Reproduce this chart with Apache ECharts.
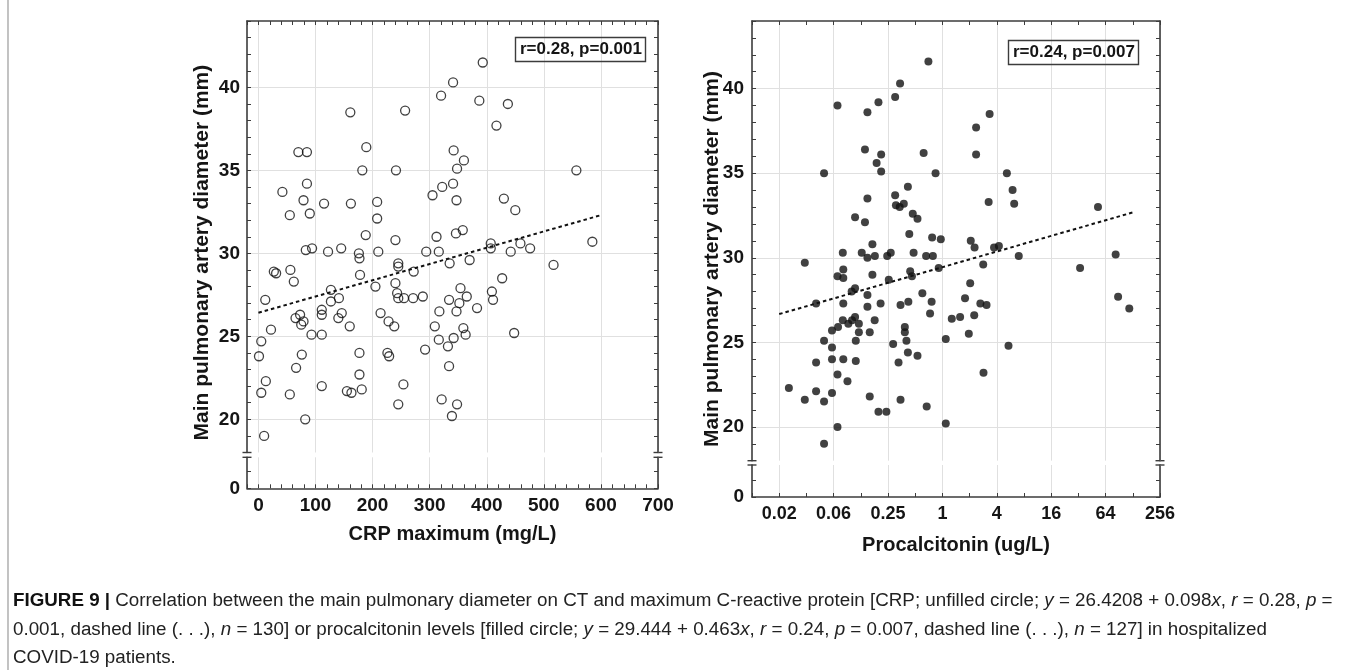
<!DOCTYPE html>
<html><head>
<meta charset="UTF-8">
<title>Figure 9</title>
<script src="https://cdn.jsdelivr.net/npm/echarts@6.0.0/dist/echarts.min.js"></script>
<style>
  html, body { margin: 0; padding: 0; background: #fff; }
  #chart { width: 1357px; height: 670px; }
</style>
</head>
<body>
<div id="chart"></div>
<script>
// CRP maximum (mg/L) vs main pulmonary artery diameter (mm), unfilled circles
const crpMax = [393,341,320,387,417,161,257,70,85,189,342,360,348,182,241,85,42,79,115,162,
  208,305,322,341,347,55,90,208,188,240,312,346,358,83,94,122,145,176,177,210,
  294,316,335,370,245,245,407,407,
  437,557,430,450,442,459,476,585,517,427,448,
  27,31,56,62,12,22,5,1,13,5,10,55,66,76,82,65,73,79,75,93,
  111,111,111,111,127,127,141,140,146,160,155,163,177,177,181,178,205,214,228,238,
  226,229,245,254,240,243,245,255,272,271,288,292,309,316,317,321,332,334,342,339,
  348,334,352,347,354,365,359,363,383,409,411];
const crpDiam = [41.5,40.3,39.5,39.2,37.7,38.5,38.6,36.1,36.1,36.4,36.2,35.6,35.1,35.0,35.0,34.2,33.7,33.2,33.0,33.0,
  33.1,33.5,34.0,34.2,33.2,32.3,32.4,32.1,31.1,30.8,31.0,31.2,31.4,30.2,30.3,30.1,30.3,30.0,29.7,30.1,
  30.1,30.1,29.4,29.6,29.4,29.2,30.6,30.3,
  39.0,35.0,33.3,32.6,30.1,30.6,30.3,30.7,29.3,28.5,25.2,
  28.9,28.8,29.0,28.3,27.2,25.4,24.7,23.8,22.3,21.6,19.0,21.5,23.1,23.9,20.0,26.1,26.3,25.9,25.7,25.1,
  25.1,22.0,26.6,26.3,27.8,27.1,27.3,26.1,26.4,25.6,21.7,21.6,24.0,22.7,21.8,28.7,28.0,26.4,25.9,25.6,
  24.0,23.8,20.9,22.1,28.2,27.6,27.3,27.3,28.9,27.3,27.4,24.2,25.6,24.8,26.5,21.2,24.4,23.2,24.9,20.2,
  20.9,27.2,27.0,26.5,27.9,27.4,25.5,25.1,26.7,27.7,27.2];
const crpTrend = [[0, 26.42], [600, 32.3]];

// Procalcitonin (ug/L) vs main pulmonary artery diameter (mm), filled circles
const pctLevel = [0.70,0.34,0.30,0.196,0.069,0.148,3.33,2.36,0.139,0.21,0.62,2.36,0.187,0.21,0.049,0.84,5.17,0.415,5.98,6.23,
  3.25,0.30,0.148,0.306,0.337,0.374,0.108,0.139,0.47,0.53,0.43,0.168,0.77,0.96,2.06,2.27,3.73,4.22,0.030,0.079,
  0.128,0.148,0.179,0.245,0.268,0.48,0.66,0.785,2.83,7.0,
  0.080,0.069,0.080,0.168,0.44,0.46,0.255,0.91,2.03,0.108,0.099,0.148,0.60,0.040,0.080,0.148,0.207,0.344,0.42,0.76,
  0.73,1.78,2.63,3.08,2.25,1.27,1.57,1.96,1.09,5.39,2.85,0.079,0.091,0.100,0.108,0.119,0.178,0.070,0.060,0.119,
  0.157,0.384,0.384,0.40,0.285,0.415,0.53,0.327,0.049,0.060,0.110,0.040,0.060,0.080,0.110,0.069,0.089,0.020,0.030,0.040,
  0.049,0.060,0.157,0.196,0.240,0.344,0.67,1.09,0.069,0.049,
  52.7,82.7,33.4,88,117];
const pctDiam = [41.6,40.3,39.5,39.2,39.0,38.6,38.5,37.7,36.4,36.1,36.2,36.1,35.6,35.1,35.0,35.0,35.0,34.2,34.0,33.2,
  33.3,33.7,33.5,33.1,33.0,33.2,32.4,32.1,32.6,32.3,31.4,30.8,31.2,31.1,31.0,30.6,30.6,30.7,29.7,30.3,
  30.3,30.0,30.1,30.1,30.3,30.3,30.1,30.1,29.6,30.1,
  29.3,28.9,28.8,29.0,29.2,28.9,28.7,29.4,28.5,28.2,28.0,27.8,27.9,27.3,27.3,27.1,27.3,27.2,27.4,27.4,
  26.7,27.6,27.3,27.2,26.6,26.4,26.5,25.5,25.2,24.8,23.2,26.3,26.1,26.3,26.5,26.1,26.3,25.9,25.7,25.6,
  25.6,25.9,25.6,25.1,24.9,24.4,24.2,23.8,25.1,24.7,25.1,23.8,24.0,24.0,23.9,23.1,22.7,22.3,21.6,22.1,
  21.5,22.0,21.8,20.9,20.9,21.6,21.2,20.2,20.0,19.0,
  33.0,30.2,29.4,27.7,27.0];
const pctTrend = [[0.015625, 26.67], [128, 32.68]];

// axis ticks and labels
const crpMajor = [0, 100, 200, 300, 400, 500, 600, 700];
const crpMinor = [-20,0,20,40,60,80,100,120,140,160,180,200,220,240,260,280,300,320,340,360,380,400,
  420,440,460,480,500,520,540,560,580,600,620,640,660,680,700];
const pctMajor = [0.015625, 0.0625, 0.25, 1, 4, 16, 64, 256];
const pctLabels = ['0.02', '0.06', '0.25', '1', '4', '16', '64', '256'];
const pctMinor = [0.0078125,0.015625,0.03125,0.0625,0.125,0.25,0.5,1,2,4,8,16,32,64,128,256];
const diamMajor = [20, 25, 30, 35, 40];
const diamMinor = [18,19,20,21,22,23,24,25,26,27,28,29,30,31,32,33,34,35,36,37,38,39,40,41,42,43,44];
const lowTicks = [0, 1];
const lowLabels = [0];

const statCRP = 'r=0.28, p=0.001';
const statPCT = 'r=0.24, p=0.007';

// layout (px)
const L = { left: 247, right: 658, top: 21, brk1: 452.5, brk2: 457.3, bottom: 488.3 };
const R = { left: 752, right: 1160, top: 21, brk1: 460.7, brk2: 465, bottom: 497 };
const LOW_MAX = 1.87;

const FONT = '"Liberation Sans", Arial, Helvetica, sans-serif';
const INK = '#151515';
const FRAME = '#3c3c3c';
const GRIDC = '#e0e0e0';

function frameAxis(base, ticks, labels, labelOpt) {
  return Object.assign({
    type: 'value',
    axisLine: { show: true, onZero: false, lineStyle: { color: FRAME, width: 1.6 } },
    axisTick: { show: true, inside: true, length: 4, customValues: ticks, lineStyle: { color: FRAME, width: 1 } },
    axisLabel: labels
      ? Object.assign({ show: true, customValues: labels, color: INK, fontFamily: FONT, fontWeight: 'bold', fontSize: 19 }, labelOpt)
      : { show: false },
    splitLine: { show: false }
  }, base);
}

function lineAxis(base, values) {
  return Object.assign({
    type: 'value',
    axisLine: { show: false, onZero: false },
    axisTick: { show: false, customValues: values },
    axisLabel: { show: false },
    splitLine: { show: true, lineStyle: { color: GRIDC, width: 1 } }
  }, base);
}

function pctFormat(v) {
  for (let i = 0; i < pctMajor.length; i++) {
    if (Math.abs(Math.log2(v) - Math.log2(pctMajor[i])) < 1e-6) return pctLabels[i];
  }
  return '';
}

const nameStyle = { fontFamily: FONT, fontWeight: 'bold', fontSize: 20, color: INK };
const crpX = { min: -20, max: 700 };
const pctX = { type: 'log', logBase: 2, min: 0.0078125, max: 256 };
const upY = { min: 18, max: 44 };
const lowY = { min: 0, max: LOW_MAX };

function breakMarks(P) {
  const out = [];
  [P.left, P.right].forEach(function (x) {
    [P.brk1, P.brk2].forEach(function (y) {
      out.push({ type: 'line', shape: { x1: x - 4.5, y1: y, x2: x + 4.5, y2: y },
        style: { stroke: FRAME, lineWidth: 1.4 }, silent: true });
    });
  });
  return out;
}

const CAP_SIZE = 18.8;
const capRich = {
  b: { fontFamily: FONT, fontSize: CAP_SIZE, fontWeight: 'bold', fill: '#111' },
  i: { fontFamily: FONT, fontSize: CAP_SIZE, fontStyle: 'italic', fill: '#222' }
};
const capLines = [
  '{b|FIGURE 9 |} Correlation between the main pulmonary diameter on CT and maximum C-reactive protein [CRP; unfilled circle; {i|y} = 26.4208 + 0.098{i|x}, {i|r} = 0.28, {i|p} =',
  '0.001, dashed line (. . .), {i|n} = 130] or procalcitonin levels [filled circle; {i|y} = 29.444 + 0.463{i|x}, {i|r} = 0.24, {i|p} = 0.007, dashed line (. . .), {i|n} = 127] in hospitalized',
  'COVID-19 patients.'
];
const capY = [601, 630, 658];

const yName = 'Main pulmonary artery diameter (mm)';
const yNameStyle = { text: yName, fontFamily: FONT, fontWeight: 'bold', fontSize: 21,
  fill: INK, align: 'center', verticalAlign: 'middle' };

const chart = echarts.init(document.getElementById('chart'));

const option = {
  animation: false,
  backgroundColor: '#fff',
  title: [
    { text: statCRP, left: 515, top: 37, padding: [4, 4, 4, 5], borderColor: FRAME, borderWidth: 1.4,
      textStyle: { fontFamily: FONT, fontWeight: 'bold', fontSize: 17, color: INK } },
    { text: statPCT, left: 1008, top: 40, padding: [4, 4, 4, 5], borderColor: FRAME, borderWidth: 1.4,
      textStyle: { fontFamily: FONT, fontWeight: 'bold', fontSize: 17, color: INK } }
  ],
  grid: [
    { left: L.left, top: L.top, width: L.right - L.left, height: L.brk1 - L.top },
    { left: L.left, top: L.brk2, width: L.right - L.left, height: L.bottom - L.brk2 },
    { left: R.left, top: R.top, width: R.right - R.left, height: R.brk1 - R.top },
    { left: R.left, top: R.brk2, width: R.right - R.left, height: R.bottom - R.brk2 }
  ],
  xAxis: [
    frameAxis(Object.assign({ gridIndex: 0, position: 'top' }, crpX), crpMinor),
    lineAxis(Object.assign({ gridIndex: 0, position: 'bottom' }, crpX), crpMajor),
    frameAxis(Object.assign({ gridIndex: 1, position: 'bottom', name: 'CRP maximum (mg/L)', nameLocation: 'middle',
      nameGap: 36, nameTextStyle: nameStyle }, crpX), crpMinor, crpMajor, { margin: 8 }),
    lineAxis(Object.assign({ gridIndex: 1, position: 'top' }, crpX), crpMajor),
    frameAxis(Object.assign({ gridIndex: 2, position: 'top' }, pctX), pctMinor),
    lineAxis(Object.assign({ gridIndex: 2, position: 'bottom' }, pctX), pctMajor),
    frameAxis(Object.assign({ gridIndex: 3, position: 'bottom', name: 'Procalcitonin (ug/L)', nameLocation: 'middle',
      nameGap: 38, nameTextStyle: nameStyle }, pctX), pctMinor, pctMajor, { margin: 8, fontSize: 18, formatter: pctFormat }),
    lineAxis(Object.assign({ gridIndex: 3, position: 'top' }, pctX), pctMajor)
  ],
  yAxis: [
    frameAxis(Object.assign({ gridIndex: 0, position: 'left' }, upY), diamMinor, diamMajor, { margin: 7 }),
    frameAxis(Object.assign({ gridIndex: 0, position: 'right' }, upY), diamMinor),
    lineAxis(Object.assign({ gridIndex: 0, position: 'left' }, upY), diamMajor),
    frameAxis(Object.assign({ gridIndex: 1, position: 'left' }, lowY), lowTicks, lowLabels, { margin: 7 }),
    frameAxis(Object.assign({ gridIndex: 1, position: 'right' }, lowY), lowTicks),
    frameAxis(Object.assign({ gridIndex: 2, position: 'left' }, upY), diamMinor, diamMajor, { margin: 8 }),
    frameAxis(Object.assign({ gridIndex: 2, position: 'right' }, upY), diamMinor),
    lineAxis(Object.assign({ gridIndex: 2, position: 'left' }, upY), diamMajor),
    frameAxis(Object.assign({ gridIndex: 3, position: 'left' }, lowY), lowTicks, lowLabels, { margin: 8 }),
    frameAxis(Object.assign({ gridIndex: 3, position: 'right' }, lowY), lowTicks)
  ],
  series: [
    {
      name: 'CRP', type: 'scatter', xAxisIndex: 0, yAxisIndex: 0,
      data: crpMax.map(function (v, i) { return [v, crpDiam[i]]; }),
      symbol: 'circle', symbolSize: 9,
      itemStyle: { color: 'rgba(255,255,255,0)', borderColor: '#111', borderWidth: 1.3 },
      silent: true, z: 3
    },
    {
      name: 'CRP fit', type: 'line', xAxisIndex: 0, yAxisIndex: 0, data: crpTrend,
      showSymbol: false, symbol: 'none',
      lineStyle: { color: '#111', width: 2, type: [3.5, 3] }, silent: true, z: 4
    },
    {
      name: 'PCT', type: 'scatter', xAxisIndex: 4, yAxisIndex: 5,
      data: pctLevel.map(function (v, i) { return [v, pctDiam[i]]; }),
      symbol: 'circle', symbolSize: 8,
      itemStyle: { color: '#111' }, silent: true, z: 3
    },
    {
      name: 'PCT fit', type: 'line', xAxisIndex: 4, yAxisIndex: 5, data: pctTrend,
      showSymbol: false, symbol: 'none',
      lineStyle: { color: '#111', width: 2, type: [3.5, 3] }, silent: true, z: 4
    }
  ],
  graphic: [].concat(
    breakMarks(L),
    breakMarks(R),
    [
      { type: 'text', x: 202, y: (L.top + L.bottom) / 2 - 2, rotation: Math.PI / 2, silent: true, style: yNameStyle },
      { type: 'text', x: 712, y: (R.top + R.bottom) / 2, rotation: Math.PI / 2, silent: true, style: yNameStyle },
      { type: 'line', shape: { x1: 8, y1: 0, x2: 8, y2: 670 }, style: { stroke: '#9a9a9a', lineWidth: 1.2 }, silent: true }
    ],
    capLines.map(function (t, i) {
      return { type: 'text', x: 13, y: capY[i], silent: true,
        style: { text: t, rich: capRich, fontFamily: FONT, fontSize: CAP_SIZE, fill: '#222', verticalAlign: 'middle' } };
    })
  )
};

chart.setOption(option);
</script>
</body></html>
